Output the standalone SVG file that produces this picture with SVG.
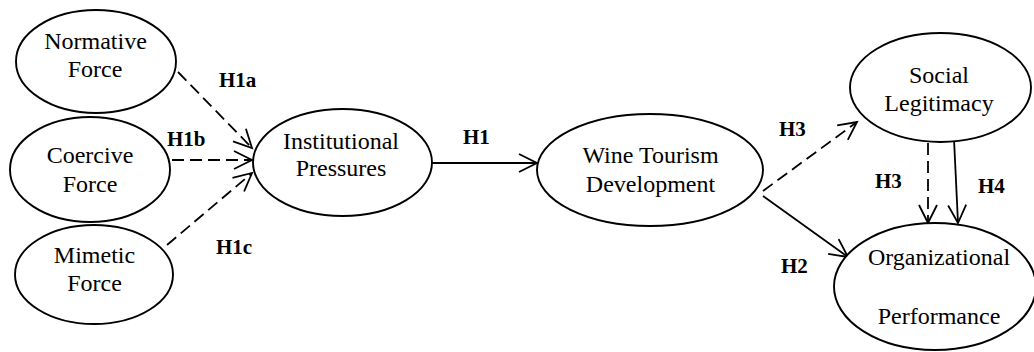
<svg xmlns="http://www.w3.org/2000/svg" width="1034" height="352" viewBox="0 0 1034 352">
  <style>
    .node ellipse { fill: #fff; stroke: #000; stroke-width: 1.9; }
    .node text { font-family: "Liberation Serif", "Times New Roman", serif; font-size: 24px; text-anchor: middle; fill: #000; }
    .lbl { font-family: "Liberation Serif", "Times New Roman", serif; font-size: 21px; font-weight: bold; fill: #000; }
    .edge { fill: none; stroke: #000; stroke-width: 1.8; marker-end: url(#arr); }
    .dash { stroke-dasharray: 12 6; }
  </style>
  <defs>
    <marker id="arr" viewBox="0 0 24 24" markerWidth="24" markerHeight="24" refX="20" refY="12" orient="auto" markerUnits="userSpaceOnUse">
      <path d="M2,3 L20,12 L2,21" fill="none" stroke="#000" stroke-width="1.8" stroke-dasharray="none"/>
    </marker>
  </defs>
  <rect width="1034" height="352" fill="#fff"/>

  <!-- connectors -->
  <g id="connectors">
    <line class="edge dash" x1="178" y1="72" x2="252" y2="148"/>
    <line class="edge dash" x1="172" y1="160" x2="252" y2="160"/>
    <line class="edge dash" x1="167" y1="245" x2="252" y2="173"/>
    <line class="edge" x1="432" y1="163" x2="537" y2="163"/>
    <line class="edge dash" x1="763" y1="191" x2="857" y2="122"/>
    <line class="edge" x1="763" y1="196" x2="848" y2="257"/>
    <line class="edge dash" x1="928" y1="143" x2="928" y2="223"/>
    <line class="edge" x1="954" y1="139" x2="958" y2="223"/>
  </g>

  <!-- hypothesis labels -->
  <g id="labels">
    <text class="lbl" x="219" y="87">H1a</text>
    <text class="lbl" x="167" y="146">H1b</text>
    <text class="lbl" x="216" y="254">H1c</text>
    <text class="lbl" x="463" y="144">H1</text>
    <text class="lbl" x="779" y="136">H3</text>
    <text class="lbl" x="875" y="188">H3</text>
    <text class="lbl" x="978" y="193">H4</text>
    <text class="lbl" x="781" y="273">H2</text>
  </g>

  <!-- nodes -->
  <g id="normative" class="node">
    <ellipse cx="96" cy="61.5" rx="80" ry="51.5"/>
    <text x="95.5" y="49">Normative</text>
    <text x="95" y="77">Force</text>
  </g>
  <g id="coercive" class="node">
    <ellipse cx="90" cy="169.5" rx="80" ry="52.5"/>
    <text x="90" y="163">Coercive</text>
    <text x="90" y="192">Force</text>
  </g>
  <g id="mimetic" class="node">
    <ellipse cx="94" cy="274.5" rx="79" ry="49.5"/>
    <text x="94.5" y="263">Mimetic</text>
    <text x="94.5" y="291">Force</text>
  </g>
  <g id="institutional" class="node">
    <ellipse cx="342.5" cy="162.5" rx="89.5" ry="53.5"/>
    <text x="341" y="149">Institutional</text>
    <text x="341" y="176">Pressures</text>
  </g>
  <g id="wine-tourism" class="node">
    <ellipse cx="650" cy="170" rx="113" ry="56"/>
    <text x="650.5" y="163">Wine Tourism</text>
    <text x="650.5" y="192">Development</text>
  </g>
  <g id="social-legitimacy" class="node">
    <ellipse cx="940.5" cy="87.5" rx="90.5" ry="54.5"/>
    <text x="939" y="83">Social</text>
    <text x="939" y="111">Legitimacy</text>
  </g>
  <g id="org-performance" class="node">
    <ellipse cx="935" cy="286.5" rx="101" ry="63.5"/>
    <text x="939" y="265">Organizational</text>
    <text x="939" y="324">Performance</text>
  </g>
</svg>
